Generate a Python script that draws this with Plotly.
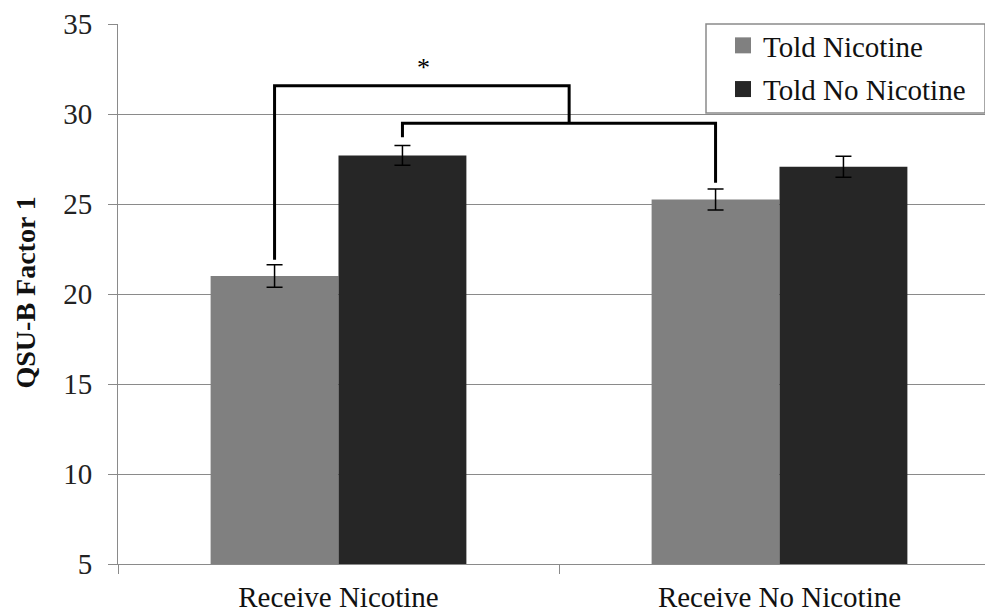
import plotly.graph_objects as go

categories = ["Receive Nicotine", "Receive No Nicotine"]
series_names = ["Told Nicotine", "Told No Nicotine"]
told_nicotine = [21.0, 25.25]
told_nicotine_err = [0.62, 0.58]
told_no_nicotine = [27.7, 27.07]
told_no_nicotine_err = [0.55, 0.58]
colors = ["#808080", "#262626"]
y_ticks = [5, 10, 15, 20, 25, 30, 35]
y_title = "QSU-B Factor 1"

# significance brackets (data coordinates)
bracket1 = dict(x0=-0.145, x1=0.523, y_left=21.9, y_top=31.57, y_right=29.48)
bracket2 = dict(x0=0.145, x1=0.855, y_left=28.71, y_top=29.48, y_right=26.18)
star = dict(x=0.192, y=32.6, text="*")

FONT = "Liberation Serif"

# figure is drawn inside the page's 8px body margin
W, H = 977, 605
L, T = 110, 16
B = H - T - 540
PW = W - L

fig = go.Figure()
for i, (name, vals, errs) in enumerate([
    (series_names[0], told_nicotine, told_nicotine_err),
    (series_names[1], told_no_nicotine, told_no_nicotine_err),
]):
    fig.add_trace(go.Bar(
        x=categories, y=vals, name=name,
        marker=dict(color=colors[i], line=dict(width=0)),
        error_y=dict(type="data", array=errs, visible=True,
                     color="black", thickness=1.5, width=8),
        showlegend=False,
    ))
    # legend entry with a larger square swatch
    fig.add_trace(go.Scatter(
        x=[None], y=[None], mode="markers", name=name,
        marker=dict(symbol="square", size=16, color=colors[i]),
        legendgroup=f"g{i}", showlegend=True, hoverinfo="skip",
    ))

shapes = []
for b in (bracket1, bracket2):
    shapes.append(dict(
        type="path", xref="x", yref="y",
        path=f"M {b['x0']},{b['y_left']} L {b['x0']},{b['y_top']} L {b['x1']},{b['y_top']} L {b['x1']},{b['y_right']}",
        line=dict(color="black", width=3),
    ))
# legend frame (page px 706..993, 24..113)
shapes.append(dict(type="rect", xref="paper", yref="paper",
                   x0=(698 - L) / PW, x1=1.0, y0=1 - (105 - T) / 540, y1=1.0,
                   line=dict(color="#8a8a8a", width=1.5), fillcolor="white", layer="below"))

fig.update_layout(
    width=W, height=H,
    margin=dict(l=L, r=0, t=T, b=B, autoexpand=False),
    paper_bgcolor="white", plot_bgcolor="white",
    barmode="group", bargap=0.42, bargroupgap=0,
    font=dict(family=FONT, size=28, color="#222222"),
    showlegend=True,
    legend=dict(x=(715 - L) / PW, xanchor="left", y=1.0 + 4 / 540, yanchor="top",
                bgcolor="rgba(0,0,0,0)", borderwidth=0,
                font=dict(family=FONT, size=29, color="#111111"),
                traceorder="grouped", tracegroupgap=3,
                itemwidth=30),
    shapes=shapes,
    annotations=[
        dict(x=star["x"], y=star["y"], xref="x", yref="y",
             text=star["text"], showarrow=False,
             font=dict(family=FONT, size=26, color="black")),
        dict(x=(17 - L) / PW, y=1 - (284.5 - T) / 540, xref="paper", yref="paper",
             xanchor="center", yanchor="middle", textangle=-90,
             text=f"<b>{y_title}</b>", showarrow=False,
             font=dict(family=FONT, size=28, color="#111111")),
    ],
)
fig.update_xaxes(
    range=[-0.5, -0.5 + PW / 441], showline=True, linecolor="#8a8a8a", linewidth=1,
    ticks="outside", tickson="boundaries", ticklen=9, tickcolor="#8a8a8a",
    ticklabelstandoff=7, automargin=False,
    showgrid=False, tickfont=dict(family=FONT, size=29, color="#111111"),
)
fig.update_yaxes(
    range=[5, 35], tickvals=y_ticks, showline=True, linecolor="#8a8a8a", linewidth=1,
    ticks="outside", ticklen=9, tickcolor="#8a8a8a", ticklabelstandoff=10,
    automargin=False,
    showgrid=True, gridcolor="#8a8a8a", gridwidth=1, zeroline=False,
    tickfont=dict(family=FONT, size=29, color="#222222"),
)

fig.write_html("out.html")
